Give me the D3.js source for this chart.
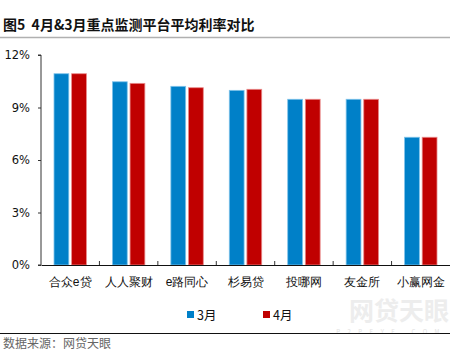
<!DOCTYPE html>
<html lang="zh">
<head>
<meta charset="utf-8">
<title>图5 4月&3月重点监测平台平均利率对比</title>
<script src="https://cdn.jsdelivr.net/npm/d3@7"></script>
<style>
  body { margin: 0; background: #fff; }
  svg { display: block; font-family: "Noto Sans CJK SC", "DejaVu Sans", sans-serif; }
</style>
</head>
<body>
<script>
// data
var platforms = ["合众e贷", "人人聚财", "e路同心", "杉易贷", "投哪网", "友金所", "小赢网金"];
var march = [10.93, 10.47, 10.21, 9.98, 9.47, 9.47, 7.30];
var april = [10.93, 10.38, 10.13, 10.04, 9.47, 9.47, 7.30];
var seriesNames = ["3月", "4月"];
var yTicks = [0, 3, 6, 9, 12];

var w = 450, h = 354;
var colors = ["#0080C8", "#C00000"];
var strokes = ["#7fc3ea", "#e98a8a"];

var svg = d3.select("body").append("svg")
    .attr("width", w)
    .attr("height", h);

// title
svg.append("text")
    .attr("x", 3).attr("y", 30)
    .attr("font-size", 14).attr("font-weight", "bold")
    .attr("fill", "#111")
    .style("white-space", "pre")
    .text("图5  4月&3月重点监测平台平均利率对比");
svg.append("line")
    .attr("x1", 0).attr("x2", w).attr("y1", 37.5).attr("y2", 37.5)
    .attr("stroke", "#b0b0b0").attr("stroke-width", 1.5);

// watermark
svg.append("text")
    .attr("x", 449).attr("y", 320)
    .attr("text-anchor", "end")
    .attr("font-size", 25).attr("font-weight", "bold")
    .attr("fill", "#ededed")
    .text("网贷天眼");
svg.append("text")
    .attr("x", 447).attr("y", 333.5)
    .attr("text-anchor", "end")
    .attr("font-size", 6).attr("letter-spacing", 7.5)
    .attr("fill", "#e2e2e2")
    .text("P2PEYE.COM");

var x0 = d3.scaleBand().domain(platforms).range([41, 450]);
var x1 = d3.scaleBand().domain(seriesNames).range([13, x0.bandwidth() - 13]).paddingInner(0.16);
var y = d3.scaleLinear().domain([0, 12]).range([265, 55]);

var rows = platforms.map(function(p, i) {
    return { name: p, vals: [march[i], april[i]] };
});

var groups = svg.selectAll("g.cat")
    .data(rows).enter().append("g")
    .attr("class", "cat")
    .attr("transform", function(d) { return "translate(" + x0(d.name) + ",0)"; });

groups.selectAll("rect")
    .data(function(d) { return d.vals.map(function(v, k) { return { k: k, v: v }; }); })
    .enter().append("rect")
    .attr("x", function(d) { return x1(seriesNames[d.k]); })
    .attr("width", x1.bandwidth())
    .attr("y", function(d) { return y(d.v); })
    .attr("height", function(d) { return y(0) - y(d.v); })
    .attr("fill", function(d) { return colors[d.k]; })
    .attr("stroke", function(d) { return strokes[d.k]; })
    .attr("stroke-width", 0.8);

// y axis
var yAxis = d3.axisLeft(y).tickValues(yTicks).tickSize(3).tickFormat(function(d) { return d + "%"; });
var gy = svg.append("g").attr("transform", "translate(41,0)").call(yAxis);
gy.select(".domain").attr("stroke", "#333").attr("d", "M-3,55H0V265H-3");
gy.selectAll(".tick line").attr("stroke", "#333").attr("x1", -3).attr("x2", 0);
gy.selectAll(".tick text").attr("x", -11).attr("fill", "#111")
    .attr("font-family", "'DejaVu Sans', sans-serif").style("font-size", "11.5px");

// x axis
var xAxis = d3.axisBottom(x0).tickSize(0).tickPadding(12);
var gx = svg.append("g").attr("transform", "translate(0,265)").call(xAxis);
gx.select(".domain").attr("stroke", "#111").attr("stroke-width", 1.2);
gx.selectAll(".tick text").attr("font-size", 12).attr("fill", "#111");
// separators between categories
gx.selectAll("line.sep")
    .data(platforms.slice(1)).enter().append("line")
    .attr("class", "sep")
    .attr("x1", function(d) { return x0(d); })
    .attr("x2", function(d) { return x0(d); })
    .attr("y1", -4).attr("y2", 0)
    .attr("stroke", "#333");

// legend
var legendX = [187, 263];
var lg = svg.selectAll("g.lg").data(seriesNames).enter().append("g")
    .attr("class", "lg")
    .attr("transform", function(d, i) { return "translate(" + legendX[i] + ",311)"; });
lg.append("rect").attr("width", 7).attr("height", 7)
    .attr("fill", function(d, i) { return colors[i]; });
lg.append("text").attr("x", 10).attr("y", 8.5)
    .attr("font-size", 12.5).attr("fill", "#111")
    .text(function(d) { return d; });

// bottom rule and source
svg.append("line")
    .attr("x1", 0).attr("x2", w).attr("y1", 333.5).attr("y2", 333.5)
    .attr("stroke", "#111").attr("stroke-width", 1.2);
svg.append("text")
    .attr("x", 3).attr("y", 348)
    .attr("font-size", 12).attr("fill", "#666")
    .text("数据来源：网贷天眼");
</script>
</body>
</html>
